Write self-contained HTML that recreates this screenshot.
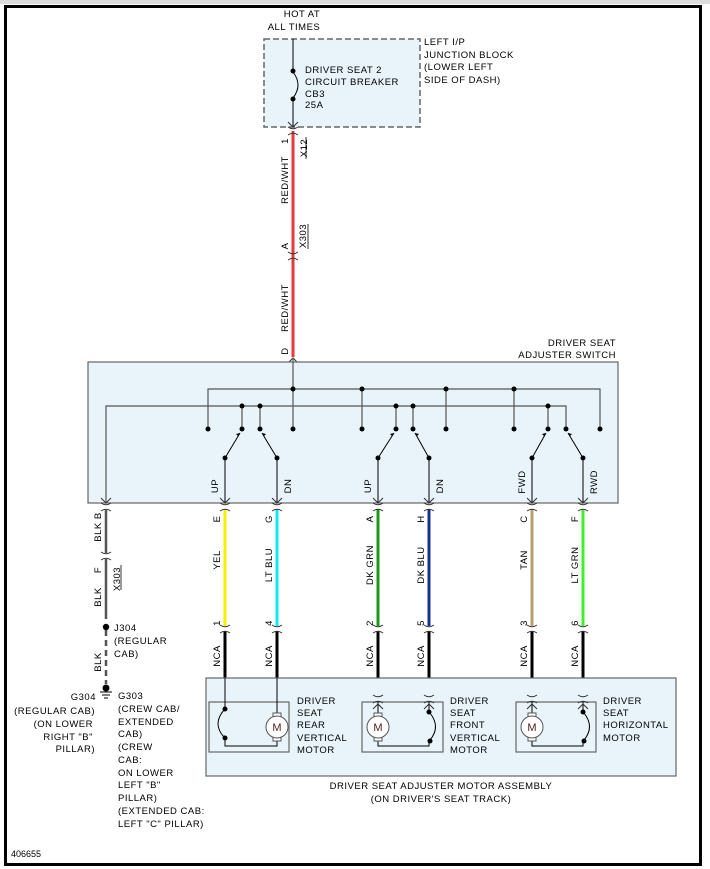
<!DOCTYPE html>
<html><head><meta charset="utf-8"><style>
html,body{margin:0;padding:0;background:#fff;}
svg{display:block;}
text{font-family:"Liberation Sans",sans-serif;font-size:9.5px;letter-spacing:0.5px;fill:#000;}
</style></head><body>
<svg width="710" height="869" viewBox="0 0 710 869" xmlns="http://www.w3.org/2000/svg">
<defs>
<g id="conn"><path d="M-5,-4 Q0,-0.5 5,-4" fill="none" stroke="#333" stroke-width="1"/><path d="M-5,4 Q0,0.5 5,4" fill="none" stroke="#333" stroke-width="1"/></g>
<g id="arr"><path d="M-5,-5 L0,0 L5,-5" fill="none" stroke="#333" stroke-width="1"/></g>
<g id="arrU"><path d="M-5,5 L0,0 L5,5" fill="none" stroke="#333" stroke-width="1"/></g>
</defs>
<rect x="0" y="0" width="710" height="4" fill="#ddd"/>
<rect x="5.5" y="6.5" width="695" height="858" fill="none" stroke="#000" stroke-width="3"/>

<!-- top junction block -->
<text x="302" y="17" text-anchor="middle">HOT AT</text>
<text x="294" y="30" text-anchor="middle">ALL TIMES</text>
<rect x="264" y="39" width="156" height="88" fill="#e8f4fa" stroke="#666" stroke-width="1.5" stroke-dasharray="6,3"/>
<line x1="293" y1="39" x2="293" y2="71" stroke="#000" stroke-width="1"/>
<circle cx="293" cy="71" r="2.5"/><circle cx="293" cy="99" r="2.5"/>
<path d="M293,72 Q303,85 293,98" fill="none" stroke="#000" stroke-width="1"/>
<line x1="293" y1="99" x2="293" y2="127" stroke="#000" stroke-width="1"/>
<use href="#arr" x="293" y="127"/>
<text x="305" y="73">DRIVER SEAT 2</text>
<text x="305" y="85">CIRCUIT BREAKER</text>
<text x="305" y="97">CB3</text>
<text x="305" y="108">25A</text>
<text x="424" y="45">LEFT I/P</text>
<text x="424" y="58">JUNCTION BLOCK</text>
<text x="424" y="70">(LOWER LEFT</text>
<text x="424" y="83">SIDE OF DASH)</text>

<!-- red wire -->
<line x1="293" y1="131" x2="293" y2="357" stroke="#e83a3a" stroke-width="3"/>
<use href="#conn" x="293" y="131"/>
<use href="#conn" x="293" y="256"/>
<use href="#arrU" x="293" y="358"/>
<text transform="translate(288,141) rotate(-90)" text-anchor="middle">1</text>
<text transform="translate(307,148) rotate(-90)" text-anchor="middle">X12</text>
<line x1="306" y1="137" x2="306" y2="159" stroke="#000" stroke-width="0.8"/>
<text transform="translate(288,180) rotate(-90)" text-anchor="middle">RED/WHT</text>
<text transform="translate(288,246) rotate(-90)" text-anchor="middle">A</text>
<text transform="translate(306,236) rotate(-90)" text-anchor="middle">X303</text>
<line x1="308" y1="224" x2="308" y2="249" stroke="#000" stroke-width="0.8"/>
<text transform="translate(288,308) rotate(-90)" text-anchor="middle">RED/WHT</text>
<text transform="translate(288,351) rotate(-90)" text-anchor="middle">D</text>

<!-- switch -->
<text x="616" y="346" text-anchor="end">DRIVER SEAT</text>
<text x="616" y="358" text-anchor="end">ADJUSTER SWITCH</text>
<rect x="88" y="362" width="530" height="141" fill="#e8f4fa" stroke="#666" stroke-width="1.2"/>
<g stroke="#555" stroke-width="1.2" fill="none">
<polyline points="208,429 208,389 600,389 600,429"/>
<polyline points="106,503 106,406 566,406 566,429"/>
<line x1="293" y1="358" x2="293" y2="429"/>
<line x1="362" y1="389" x2="362" y2="429"/>
<line x1="446" y1="389" x2="446" y2="429"/>
<line x1="514" y1="389" x2="514" y2="429"/>
<line x1="242" y1="406" x2="242" y2="429"/>
<line x1="260" y1="406" x2="260" y2="429"/>
<line x1="396" y1="406" x2="396" y2="429"/>
<line x1="413" y1="406" x2="413" y2="429"/>
<line x1="548" y1="406" x2="548" y2="429"/>
</g>
<g fill="#000">
<circle cx="293" cy="389" r="2.5"/><circle cx="362" cy="389" r="2.5"/><circle cx="446" cy="389" r="2.5"/><circle cx="514" cy="389" r="2.5"/>
<circle cx="242" cy="406" r="2.5"/><circle cx="260" cy="406" r="2.5"/><circle cx="396" cy="406" r="2.5"/><circle cx="413" cy="406" r="2.5"/><circle cx="548" cy="406" r="2.5"/>
<circle cx="208" cy="429" r="2.5"/><circle cx="242" cy="429" r="2.5"/><circle cx="260" cy="429" r="2.5"/><circle cx="293" cy="429" r="2.5"/>
<circle cx="362" cy="429" r="2.5"/><circle cx="396" cy="429" r="2.5"/><circle cx="413" cy="429" r="2.5"/><circle cx="446" cy="429" r="2.5"/>
<circle cx="514" cy="429" r="2.5"/><circle cx="548" cy="429" r="2.5"/><circle cx="566" cy="429" r="2.5"/><circle cx="600" cy="429" r="2.5"/>
<circle cx="225" cy="458" r="2.5"/><circle cx="277" cy="458" r="2.5"/><circle cx="378" cy="458" r="2.5"/><circle cx="429" cy="458" r="2.5"/><circle cx="532" cy="458" r="2.5"/><circle cx="583" cy="458" r="2.5"/>
</g>
<g stroke="#000" stroke-width="1" fill="none">
<line x1="225" y1="458" x2="240" y2="433"/><line x1="277" y1="458" x2="262" y2="433"/>
<line x1="378" y1="458" x2="394" y2="433"/><line x1="429" y1="458" x2="415" y2="433"/>
<line x1="532" y1="458" x2="546" y2="433"/><line x1="583" y1="458" x2="568" y2="433"/>
<line x1="225" y1="458" x2="225" y2="503"/><line x1="277" y1="458" x2="277" y2="503"/>
<line x1="378" y1="458" x2="378" y2="503"/><line x1="429" y1="458" x2="429" y2="503"/>
<line x1="532" y1="458" x2="532" y2="503"/><line x1="583" y1="458" x2="583" y2="503"/>
</g>
<g fill="#000">
<path d="M240,433 l-4,1 l2,2z"/><path d="M262,433 l4,1 l-2,2z"/>
<path d="M394,433 l-4,1 l2,2z"/><path d="M415,433 l4,1 l-2,2z"/>
<path d="M546,433 l-4,1 l2,2z"/><path d="M568,433 l4,1 l-2,2z"/>
</g>
<use href="#arr" x="106" y="503"/><use href="#arr" x="225" y="503"/><use href="#arr" x="277" y="503"/>
<use href="#arr" x="378" y="503"/><use href="#arr" x="429" y="503"/><use href="#arr" x="532" y="503"/><use href="#arr" x="583" y="503"/>
<text transform="translate(218,486) rotate(-90)" text-anchor="middle">UP</text>
<text transform="translate(291,486) rotate(-90)" text-anchor="middle">DN</text>
<text transform="translate(371,486) rotate(-90)" text-anchor="middle">UP</text>
<text transform="translate(443,486) rotate(-90)" text-anchor="middle">DN</text>
<text transform="translate(525,482) rotate(-90)" text-anchor="middle">FWD</text>
<text transform="translate(597,482) rotate(-90)" text-anchor="middle">RWD</text>

<!-- colored wires -->
<g stroke-width="3">
<line x1="225" y1="509" x2="225" y2="626" stroke="#f4f000"/>
<line x1="277" y1="509" x2="277" y2="626" stroke="#10e8f0"/>
<line x1="378" y1="509" x2="378" y2="626" stroke="#1a9a1a"/>
<line x1="429" y1="509" x2="429" y2="626" stroke="#1a3090"/>
<line x1="532" y1="509" x2="532" y2="626" stroke="#b8a070"/>
<line x1="583" y1="509" x2="583" y2="626" stroke="#40f030"/>
<line x1="225" y1="631" x2="225" y2="678" stroke="#000"/>
<line x1="277" y1="631" x2="277" y2="678" stroke="#000"/>
<line x1="378" y1="631" x2="378" y2="678" stroke="#000"/>
<line x1="429" y1="631" x2="429" y2="678" stroke="#000"/>
<line x1="532" y1="631" x2="532" y2="678" stroke="#000"/>
<line x1="583" y1="631" x2="583" y2="678" stroke="#000"/>
</g>
<g>
<use href="#conn" x="225" y="507"/><use href="#conn" x="277" y="507"/><use href="#conn" x="378" y="507"/><use href="#conn" x="429" y="507"/><use href="#conn" x="532" y="507"/><use href="#conn" x="583" y="507"/><use href="#conn" x="106" y="507"/>
<use href="#conn" x="225" y="629"/><use href="#conn" x="277" y="629"/><use href="#conn" x="378" y="629"/><use href="#conn" x="429" y="629"/><use href="#conn" x="532" y="629"/><use href="#conn" x="583" y="629"/>
</g>
<g>
<text transform="translate(220,519) rotate(-90)" text-anchor="middle">E</text>
<text transform="translate(220,560) rotate(-90)" text-anchor="middle">YEL</text>
<text transform="translate(220,623) rotate(-90)" text-anchor="middle">1</text>
<text transform="translate(220,656) rotate(-90)" text-anchor="middle">NCA</text>
<text transform="translate(272,519) rotate(-90)" text-anchor="middle">G</text>
<text transform="translate(272,565) rotate(-90)" text-anchor="middle">LT BLU</text>
<text transform="translate(272,623) rotate(-90)" text-anchor="middle">4</text>
<text transform="translate(272,656) rotate(-90)" text-anchor="middle">NCA</text>
<text transform="translate(373,519) rotate(-90)" text-anchor="middle">A</text>
<text transform="translate(373,565) rotate(-90)" text-anchor="middle">DK GRN</text>
<text transform="translate(373,623) rotate(-90)" text-anchor="middle">2</text>
<text transform="translate(373,656) rotate(-90)" text-anchor="middle">NCA</text>
<text transform="translate(424,519) rotate(-90)" text-anchor="middle">H</text>
<text transform="translate(424,565) rotate(-90)" text-anchor="middle">DK BLU</text>
<text transform="translate(424,623) rotate(-90)" text-anchor="middle">5</text>
<text transform="translate(424,656) rotate(-90)" text-anchor="middle">NCA</text>
<text transform="translate(527,519) rotate(-90)" text-anchor="middle">C</text>
<text transform="translate(527,560) rotate(-90)" text-anchor="middle">TAN</text>
<text transform="translate(527,623) rotate(-90)" text-anchor="middle">3</text>
<text transform="translate(527,656) rotate(-90)" text-anchor="middle">NCA</text>
<text transform="translate(578,519) rotate(-90)" text-anchor="middle">F</text>
<text transform="translate(578,565) rotate(-90)" text-anchor="middle">LT GRN</text>
<text transform="translate(578,623) rotate(-90)" text-anchor="middle">6</text>
<text transform="translate(578,656) rotate(-90)" text-anchor="middle">NCA</text>
</g>

<!-- BLK wire -->
<line x1="106" y1="510" x2="106" y2="553" stroke="#555" stroke-width="2.5"/>
<use href="#conn" x="106" y="556"/>
<line x1="106" y1="559" x2="106" y2="619" stroke="#555" stroke-width="2.5"/>
<line x1="106" y1="630" x2="106" y2="684" stroke="#555" stroke-width="2.5" stroke-dasharray="6,4"/>
<circle cx="106" cy="627" r="3.2"/>
<circle cx="106" cy="688" r="3.5"/>
<line x1="100" y1="692" x2="112" y2="692" stroke="#000"/><line x1="102" y1="695" x2="110" y2="695" stroke="#000"/><line x1="104" y1="698" x2="108" y2="698" stroke="#000"/>
<text transform="translate(101,527) rotate(-90)" text-anchor="middle">BLK B</text>
<text transform="translate(101,570) rotate(-90)" text-anchor="middle">F</text>
<text transform="translate(101,597) rotate(-90)" text-anchor="middle">BLK</text>
<text transform="translate(120,579) rotate(-90)" text-anchor="middle">X303</text>
<line x1="121" y1="565" x2="121" y2="590" stroke="#000" stroke-width="0.8"/>
<text transform="translate(101,662) rotate(-90)" text-anchor="middle">BLK</text>
<text x="114" y="631">J304</text>
<text x="114" y="644">(REGULAR</text>
<text x="114" y="657">CAB)</text>
<text x="96" y="700" text-anchor="end">G304</text>
<text x="95" y="714" text-anchor="end">(REGULAR CAB)</text>
<text x="93" y="727" text-anchor="end">(ON LOWER</text>
<text x="93" y="740" text-anchor="end">RIGHT "B"</text>
<text x="95" y="752" text-anchor="end">PILLAR)</text>
<text x="118" y="699">G303</text>
<text x="118" y="712">(CREW CAB/</text>
<text x="118" y="725">EXTENDED</text>
<text x="118" y="737">CAB)</text>
<text x="118" y="750">(CREW</text>
<text x="118" y="763">CAB:</text>
<text x="118" y="776">ON LOWER</text>
<text x="118" y="788">LEFT "B"</text>
<text x="118" y="801">PILLAR)</text>
<text x="118" y="814">(EXTENDED CAB:</text>
<text x="118" y="827">LEFT "C" PILLAR)</text>

<!-- motor assembly -->
<rect x="206" y="678" width="470" height="98" fill="#e8f4fa" stroke="#666" stroke-width="1.2"/>
<g fill="none" stroke="#666" stroke-width="1.2">
<rect x="209" y="702" width="80" height="50"/>
<rect x="362" y="702" width="81" height="50"/>
<rect x="516" y="702" width="80" height="50"/>
</g>
<g stroke="#000" stroke-width="1" fill="none">
<line x1="225" y1="678" x2="225" y2="709"/>
<path d="M224,710 Q212,724 224,737"/>
<polyline points="225,738 225,746 277,746 277,739"/>
<line x1="277" y1="678" x2="277" y2="715"/>
<line x1="378" y1="702" x2="378" y2="715"/>
<polyline points="378,739 378,746 429,746 429,741"/>
<line x1="429" y1="702" x2="429" y2="712"/>
<path d="M430,713 Q441,727 430,740"/>
<line x1="532" y1="702" x2="532" y2="715"/>
<polyline points="532,739 532,746 583,746 583,741"/>
<line x1="583" y1="702" x2="583" y2="712"/>
<path d="M584,713 Q595,727 584,740"/>
</g>
<use href="#conn" x="378" y="699"/><use href="#conn" x="429" y="699"/><use href="#conn" x="532" y="699"/><use href="#conn" x="583" y="699"/>
<use href="#arrU" x="378" y="704"/><use href="#arrU" x="429" y="704"/><use href="#arrU" x="532" y="704"/><use href="#arrU" x="583" y="704"/>
<g fill="#000">
<circle cx="225" cy="709" r="2.5"/><circle cx="225" cy="738" r="2.5"/>
<circle cx="429" cy="712" r="2.5"/><circle cx="430" cy="741" r="2.5"/>
<circle cx="583" cy="712" r="2.5"/><circle cx="584" cy="741" r="2.5"/>
</g>
<g stroke="#555" stroke-width="1" fill="#fff">
<rect x="273" y="713" width="8" height="4"/><rect x="273" y="737" width="8" height="4"/><circle cx="277" cy="727" r="11"/>
<rect x="374" y="713" width="8" height="4"/><rect x="374" y="737" width="8" height="4"/><circle cx="378" cy="727" r="11"/>
<rect x="528" y="713" width="8" height="4"/><rect x="528" y="737" width="8" height="4"/><circle cx="532" cy="727" r="11"/>
</g>
<text x="277" y="731" text-anchor="middle" style="font-size:11px;letter-spacing:0;fill:#502020">M</text>
<text x="378" y="731" text-anchor="middle" style="font-size:11px;letter-spacing:0;fill:#502020">M</text>
<text x="532" y="731" text-anchor="middle" style="font-size:11px;letter-spacing:0;fill:#502020">M</text>
<text x="297" y="704">DRIVER</text><text x="297" y="716">SEAT</text><text x="297" y="728">REAR</text><text x="297" y="741">VERTICAL</text><text x="297" y="753">MOTOR</text>
<text x="450" y="704">DRIVER</text><text x="450" y="716">SEAT</text><text x="450" y="728">FRONT</text><text x="450" y="741">VERTICAL</text><text x="450" y="753">MOTOR</text>
<text x="603" y="704">DRIVER</text><text x="603" y="716">SEAT</text><text x="603" y="728">HORIZONTAL</text><text x="603" y="741">MOTOR</text>
<text x="441" y="789" text-anchor="middle">DRIVER SEAT ADJUSTER MOTOR ASSEMBLY</text>
<text x="441" y="802" text-anchor="middle">(ON DRIVER'S SEAT TRACK)</text>

<text x="11" y="857" style="font-size:9px;letter-spacing:0">406655</text>
</svg>
</body></html>
